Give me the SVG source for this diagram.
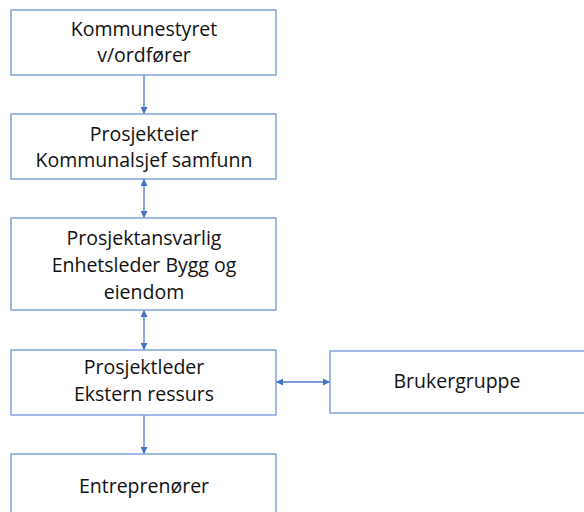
<svg xmlns="http://www.w3.org/2000/svg" width="584" height="512" viewBox="0 0 584 512">
<style>
.box{fill:#fff;stroke:#6f93d6;stroke-width:1.3}
.t{font-family:"Open Sans","Liberation Sans",sans-serif;font-size:19.5px;fill:#111;text-anchor:middle}
.c{stroke:#4f7ccc;stroke-width:1.3;fill:none}
</style>
<defs>
<marker id="ah" viewBox="0 0 10 10" refX="10" refY="5" markerWidth="7" markerHeight="7" orient="auto-start-reverse" markerUnits="userSpaceOnUse">
<path d="M0,0 L10,5 L0,10 z" fill="#4472c4"/>
</marker>
</defs>
<rect width="584" height="512" fill="#fff"/>
<g id="connectors">
<line class="c" x1="144" y1="75" x2="144" y2="114" marker-end="url(#ah)"/>
<line class="c" x1="144" y1="179" x2="144" y2="218" marker-start="url(#ah)" marker-end="url(#ah)"/>
<line class="c" x1="144" y1="310" x2="144" y2="350" marker-start="url(#ah)" marker-end="url(#ah)"/>
<line class="c" x1="144" y1="415" x2="144" y2="454" marker-end="url(#ah)"/>
<line class="c" x1="276" y1="382" x2="330" y2="382" marker-start="url(#ah)" marker-end="url(#ah)"/>
</g>
<g id="kommunestyret">
<rect class="box" x="11" y="10" width="265" height="65"/>
<text class="t" x="144" y="36">Kommunestyret</text>
<text class="t" x="144" y="62">v/ordfører</text>
</g>
<g id="prosjekteier">
<rect class="box" x="11" y="114" width="265" height="65"/>
<text class="t" x="144" y="141">Prosjekteier</text>
<text class="t" x="144" y="167">Kommunalsjef samfunn</text>
</g>
<g id="prosjektansvarlig">
<rect class="box" x="11" y="218" width="265" height="92"/>
<text class="t" x="144" y="245">Prosjektansvarlig</text>
<text class="t" x="144" y="272">Enhetsleder Bygg og</text>
<text class="t" x="144" y="299">eiendom</text>
</g>
<g id="prosjektleder">
<rect class="box" x="11" y="350" width="265" height="65"/>
<text class="t" x="144" y="374">Prosjektleder</text>
<text class="t" x="144" y="401">Ekstern ressurs</text>
</g>
<g id="brukergruppe">
<rect class="box" x="330" y="351" width="260" height="62"/>
<text class="t" x="457" y="388">Brukergruppe</text>
</g>
<g id="entreprenorer">
<rect class="box" x="11" y="454" width="265" height="65"/>
<text class="t" x="144" y="493">Entreprenører</text>
</g>
</svg>
